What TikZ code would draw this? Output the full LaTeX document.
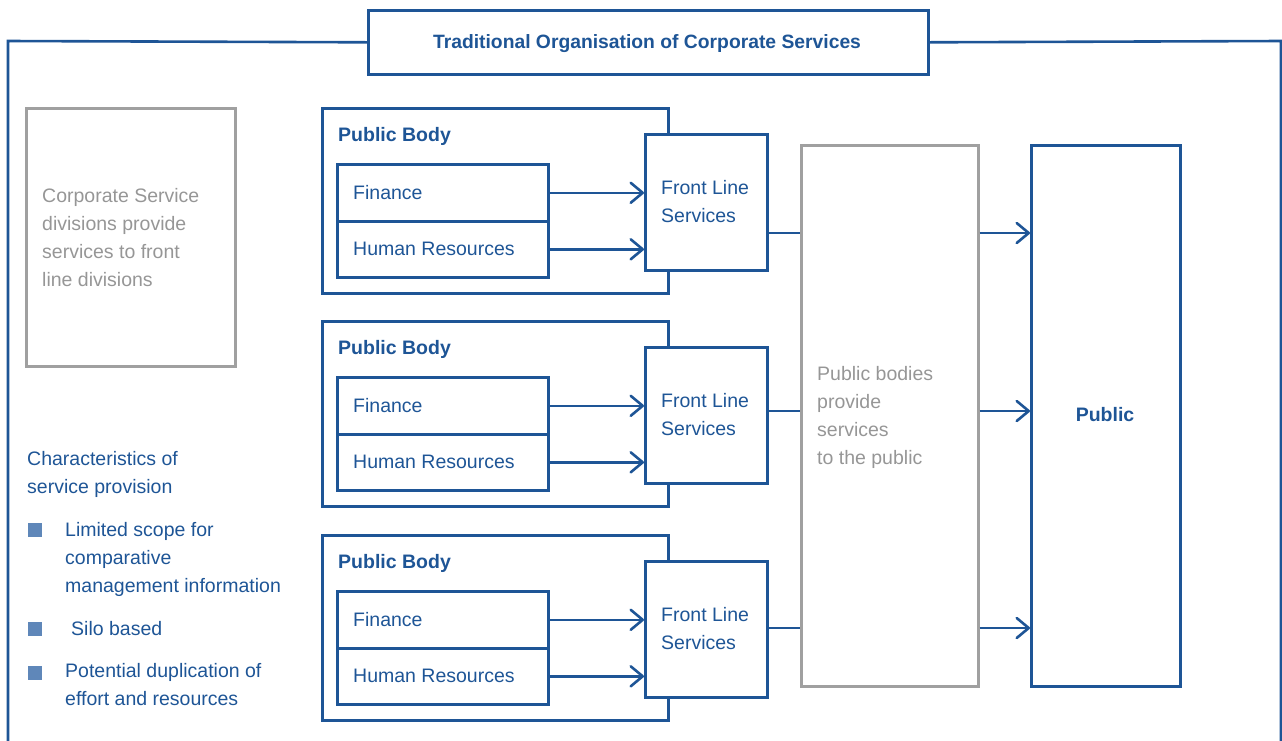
\documentclass[tikz,border=0pt]{standalone}
\usepackage{fontspec}
\setmainfont{Liberation Sans}
\usetikzlibrary{arrows.meta}
\definecolor{cblue}{RGB}{30,85,150}
\definecolor{cgray}{RGB}{160,160,160}
\definecolor{tgray}{RGB}{150,150,150}
\definecolor{bullet}{RGB}{95,135,185}
\tikzset{
  bbox/.style={draw=cblue, line width=2.6pt, anchor=north west, inner sep=0pt},
  gbox/.style={draw=cgray, line width=2.6pt, anchor=north west, inner sep=0pt},
  txt/.style={anchor=base west, inner sep=0pt, text=cblue, font=\fontsize{19.5}{28}\selectfont},
  gtxt/.style={txt, text=tgray, align=left},
  btxt/.style={txt, font=\fontsize{19.5}{28}\selectfont\bfseries},
  conn/.style={draw=cblue, line width=2.6pt},
  arr/.style={conn, -{Straight Barb[length=12pt, width=20pt, line width=2.6pt, round]}},
  sq/.style={fill=bullet, minimum width=14pt, minimum height=14pt, inner sep=0pt, anchor=north west}
}
\begin{document}
\begin{tikzpicture}[x=1pt, y=-1pt]
\useasboundingbox (0,0) rectangle (1282,740);
% outer frame
\node[bbox, minimum width=560pt, minimum height=64pt, fill=white] (title) at (367,9) {};
\node[anchor=base, inner sep=0pt, text=cblue, font=\fontsize{19.3}{22}\selectfont\bfseries] (titletxt) at (647,48) {Traditional Organisation of Corporate Services};
\coordinate (fl) at (8,742);
\coordinate (fr) at (1281,742);
\draw[conn] (title.west) -- (8,41) -- (fl);
\draw[conn] (title.east) -- (1281,41) -- (fr);
% corporate gray box
\node[gbox, minimum width=209pt, minimum height=258pt] (corp) at (25,107) {};
\node[gtxt] (corptxt) at (42,286) {Corporate Service\\divisions provide\\services to front\\line divisions};
% characteristics
\node[txt, align=left] (chars) at (27,493) {Characteristics of\\service provision};
\node[sq] (b1) at (28,523) {};
\node[sq] (b2) at (28,622) {};
\node[sq] (b3) at (28,666) {};
\node[txt, align=left] (t1) at (65,592) {Limited scope for\\comparative\\management information};
\node[txt] (t2) at (71,635) {Silo based};
\node[txt, align=left] (t3) at (65,705) {Potential duplication of\\effort and resources};
% public bodies
\foreach \i/\y in {1/0, 2/213, 3/427} {
  \node[bbox, minimum width=346pt, minimum height=185pt] (pb\i) at (321,107+\y) {};
  \node[btxt] (pbt\i) at (338,141+\y) {Public Body};
  \node[bbox, minimum width=211pt, minimum height=57pt] (fin\i) at (336,163+\y) {};
  \node[bbox, minimum width=211pt, minimum height=56pt] (hr\i) at (336,220+\y) {};
  \node[txt] (fint\i) at (353,199+\y) {Finance};
  \node[txt] (hrt\i) at (353,255+\y) {Human Resources};
  \node[bbox, minimum width=122pt, minimum height=136pt, fill=white] (fls\i) at (644,133+\y) {};
  \node[txt, align=left] (flt\i) at (661,222+\y) {Front Line\\Services};
  \draw[arr] (fin\i.east) -- (fls\i.west |- fin\i.east);
  \draw[arr] (hr\i.east) -- (fls\i.west |- hr\i.east);
}
% big gray box and public
\node[gbox, minimum width=177pt, minimum height=541pt] (pbp) at (800,144) {};
\node[gtxt] (pbptxt) at (817,464) {Public bodies\\provide\\services\\to the public};
\node[bbox, minimum width=149pt, minimum height=541pt] (pub) at (1030,144) {};
\node[anchor=base, inner sep=0pt, text=cblue, font=\fontsize{19.5}{28}\selectfont\bfseries] (pubt) at (1105,421) {Public};
\draw[conn] (fls1.east |- 0,233) -- (pbp.west |- 0,233);
\draw[conn] (fls2.east |- 0,411) -- (pbp.west |- 0,411);
\draw[conn] (fls3.east |- 0,628) -- (pbp.west |- 0,628);
\draw[arr] (pbp.east |- 0,233) -- (pub.west |- 0,233);
\draw[arr] (pbp.east |- 0,411) -- (pub.west |- 0,411);
\draw[arr] (pbp.east |- 0,628) -- (pub.west |- 0,628);
\end{tikzpicture}
\end{document}
